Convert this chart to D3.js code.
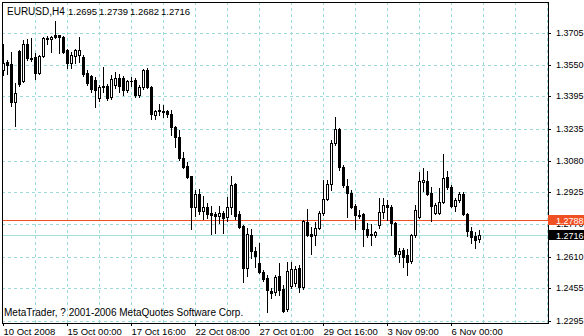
<!DOCTYPE html>
<html>
<head>
<meta charset="utf-8">
<script src="https://cdn.jsdelivr.net/npm/d3@7"></script>
<style>
  body { margin: 0; background: #fff; }
  svg { display: block; font-family: "Liberation Sans", Arial, sans-serif; }
</style>
</head>
<body>
<div id="chart"></div>
<script>
// EURUSD H4 candles (oldest first)
const opens = [
  1.3524, 1.3563, 1.3553, 1.3367, 1.3617, 1.3470, 1.3651, 1.3583, 1.3587, 1.3509,
  1.3592, 1.3681, 1.3676, 1.3695, 1.3695, 1.3685, 1.3622, 1.3558, 1.3592, 1.3597,
  1.3587, 1.3509, 1.3494, 1.3475, 1.3387, 1.3445, 1.3445, 1.3391, 1.3450, 1.3485,
  1.3485, 1.3426, 1.3470, 1.3475, 1.3401, 1.3440, 1.3524, 1.3440, 1.3303, 1.3328,
  1.3323, 1.3323, 1.3308, 1.3244, 1.3195, 1.3093, 1.3053, 1.3004, 1.2852, 1.2916,
  1.2833, 1.2852, 1.2823, 1.2818, 1.2808, 1.2823, 1.2803, 1.2852, 1.2965, 1.2818,
  1.2759, 1.2554, 1.2715, 1.2637, 1.2578, 1.2534, 1.2505, 1.2441, 1.2436, 1.2514,
  1.2451, 1.2353, 1.2465, 1.2480, 1.2554, 1.2460, 1.2779, 1.2720, 1.2715, 1.2750,
  1.2823, 1.2892, 1.2965, 1.3166, 1.3235, 1.3048, 1.2955, 1.2921, 1.2857, 1.2813,
  1.2818, 1.2745, 1.2720, 1.2715, 1.2764, 1.2828, 1.2862, 1.2852, 1.2774, 1.2622,
  1.2642, 1.2617, 1.2588, 1.2715, 1.2803, 1.2975, 1.2980, 1.2921, 1.2823, 1.2823,
  1.2877, 1.2999, 1.2950, 1.2857, 1.2887, 1.2916, 1.2818, 1.2735, 1.2710, 1.2695
];
const highs = [
  1.3651, 1.3573, 1.3612, 1.3460, 1.3622, 1.3671, 1.3676, 1.3681, 1.3607, 1.3597,
  1.3685, 1.3690, 1.3690, 1.3764, 1.3695, 1.3690, 1.3627, 1.3612, 1.3627, 1.3685,
  1.3597, 1.3524, 1.3499, 1.3489, 1.3450, 1.3538, 1.3455, 1.3499, 1.3514, 1.3504,
  1.3494, 1.3475, 1.3489, 1.3485, 1.3450, 1.3529, 1.3534, 1.3445, 1.3328, 1.3357,
  1.3352, 1.3328, 1.3328, 1.3249, 1.3230, 1.3122, 1.3073, 1.3004, 1.2936, 1.2941,
  1.2906, 1.2872, 1.2857, 1.2828, 1.2857, 1.2833, 1.2901, 1.3004, 1.2970, 1.2833,
  1.2764, 1.2750, 1.2745, 1.2656, 1.2676, 1.2544, 1.2519, 1.2456, 1.2519, 1.2578,
  1.2470, 1.2583, 1.2583, 1.2563, 1.2568, 1.2789, 1.2843, 1.2754, 1.2779, 1.2833,
  1.2985, 1.2985, 1.3181, 1.3293, 1.3240, 1.3058, 1.2990, 1.2936, 1.2867, 1.2838,
  1.2823, 1.2774, 1.2769, 1.2735, 1.2897, 1.2897, 1.2887, 1.2862, 1.2779, 1.2652,
  1.2652, 1.2647, 1.2720, 1.2862, 1.3024, 1.3044, 1.3029, 1.2950, 1.2872, 1.2946,
  1.3112, 1.3029, 1.2960, 1.2897, 1.2926, 1.2926, 1.2823, 1.2754, 1.2730, 1.2739
];
const lows = [
  1.3499, 1.3504, 1.3347, 1.3249, 1.3445, 1.3465, 1.3573, 1.3568, 1.3480, 1.3504,
  1.3587, 1.3651, 1.3612, 1.3681, 1.3607, 1.3607, 1.3534, 1.3534, 1.3558, 1.3563,
  1.3494, 1.3450, 1.3416, 1.3342, 1.3372, 1.3416, 1.3377, 1.3382, 1.3436, 1.3416,
  1.3401, 1.3416, 1.3445, 1.3391, 1.3391, 1.3431, 1.3436, 1.3284, 1.3284, 1.3303,
  1.3293, 1.3293, 1.3205, 1.3146, 1.3083, 1.3044, 1.2995, 1.2745, 1.2808, 1.2818,
  1.2794, 1.2799, 1.2720, 1.2725, 1.2774, 1.2725, 1.2784, 1.2818, 1.2794, 1.2750,
  1.2485, 1.2514, 1.2603, 1.2558, 1.2529, 1.2490, 1.2338, 1.2407, 1.2421, 1.2421,
  1.2338, 1.2343, 1.2456, 1.2465, 1.2436, 1.2451, 1.2710, 1.2622, 1.2666, 1.2745,
  1.2813, 1.2887, 1.2936, 1.3156, 1.3034, 1.2950, 1.2803, 1.2848, 1.2745, 1.2799,
  1.2661, 1.2705, 1.2666, 1.2705, 1.2750, 1.2799, 1.2789, 1.2715, 1.2612, 1.2583,
  1.2558, 1.2519, 1.2578, 1.2705, 1.2799, 1.2931, 1.2911, 1.2784, 1.2818, 1.2818,
  1.2872, 1.2941, 1.2852, 1.2833, 1.2877, 1.2815, 1.2710, 1.2676, 1.2652, 1.2682
];
const closes = [
  1.3558, 1.3548, 1.3367, 1.3411, 1.3455, 1.3651, 1.3583, 1.3578, 1.3509, 1.3592,
  1.3681, 1.3676, 1.3685, 1.3685, 1.3685, 1.3612, 1.3558, 1.3597, 1.3622, 1.3622,
  1.3504, 1.3460, 1.3431, 1.3426, 1.3440, 1.3443, 1.3387, 1.3480, 1.3485, 1.3445,
  1.3426, 1.3470, 1.3468, 1.3401, 1.3440, 1.3524, 1.3440, 1.3308, 1.3323, 1.3323,
  1.3318, 1.3308, 1.3244, 1.3195, 1.3093, 1.3048, 1.2999, 1.2852, 1.2916, 1.2833,
  1.2852, 1.2818, 1.2813, 1.2808, 1.2823, 1.2799, 1.2852, 1.2960, 1.2808, 1.2754,
  1.2554, 1.2720, 1.2637, 1.2612, 1.2534, 1.2500, 1.2446, 1.2431, 1.2509, 1.2446,
  1.2343, 1.2539, 1.2549, 1.2549, 1.2460, 1.2784, 1.2715, 1.2710, 1.2750, 1.2823,
  1.2892, 1.2965, 1.3166, 1.3235, 1.3048, 1.2960, 1.2921, 1.2852, 1.2813, 1.2808,
  1.2745, 1.2715, 1.2715, 1.2730, 1.2828, 1.2862, 1.2852, 1.2774, 1.2622, 1.2637,
  1.2607, 1.2583, 1.2715, 1.2838, 1.2980, 1.2985, 1.2916, 1.2857, 1.2862, 1.2877,
  1.2995, 1.2950, 1.2857, 1.2887, 1.2916, 1.2818, 1.2735, 1.2705, 1.2691, 1.2716
];

const timeLabels = ["10 Oct 2008", "15 Oct 00:00", "17 Oct 16:00", "22 Oct 08:00",
                    "27 Oct 01:00", "29 Oct 16:00", "3 Nov 09:00", "6 Nov 00:00"];
const timeLabelBars = [0, 16, 32, 48, 64, 80, 96, 112];
const priceTicks = [1.3705, 1.3550, 1.3395, 1.3235, 1.3080, 1.2925, 1.2770, 1.2610, 1.2455, 1.2295];

const symbol = "EURUSD,H4";
const lastBar = [1.2695, 1.2739, 1.2682, 1.2716]; // O H L C shown in the header
const alertLevel = 1.2788;
const bidLevel = 1.2716;
const copyright = "MetaTrader, ? 2001-2006 MetaQuotes Software Corp.";

const width = 584, height = 336;
const plot = { left: 2, top: 2, right: 548, bottom: 323 };
const gridColor = "#9fdada";
const alertColor = "#f05022";

const svg = d3.select("#chart")
  .append("svg")
  .attr("width", width)
  .attr("height", height);

svg.append("rect").attr("width", width).attr("height", height).attr("fill", "#fff");

// one slot = one 4h bar, 4px wide
const x = d3.scaleLinear().domain([0, 136]).range([3, 547]);
const y = d3.scaleLinear().domain([1.2295, 1.3705]).range([321, 33]);
const yRound = v => Math.round(y(v));

svg.append("clipPath").attr("id", "plotClip")
  .append("rect")
  .attr("x", plot.left).attr("y", plot.top)
  .attr("width", plot.right - plot.left).attr("height", plot.bottom - plot.top);

// Grid
const grid = svg.append("g")
  .attr("stroke", gridColor)
  .attr("stroke-dasharray", "3,3")
  .attr("shape-rendering", "crispEdges");

grid.selectAll("line.v")
  .data(d3.range(8, 137, 8))
  .enter().append("line")
  .attr("x1", d => x(d) + 0.5).attr("x2", d => x(d) + 0.5)
  .attr("y1", plot.top).attr("y2", plot.bottom);

grid.selectAll("line.h")
  .data(priceTicks)
  .enter().append("line")
  .attr("x1", plot.left).attr("x2", plot.right)
  .attr("y1", d => yRound(d) + 0.5).attr("y2", d => yRound(d) + 0.5);

// Alert and bid lines
svg.append("line")
  .attr("x1", plot.left).attr("x2", plot.right)
  .attr("y1", yRound(alertLevel) + 0.5).attr("y2", yRound(alertLevel) + 0.5)
  .attr("stroke", alertColor);

svg.append("line")
  .attr("x1", plot.left).attr("x2", plot.right)
  .attr("y1", yRound(bidLevel) + 0.5).attr("y2", yRound(bidLevel) + 0.5)
  .attr("stroke", "#a6dede");

// Candles
const bars = opens.map((o, i) => ({ i, o, h: highs[i], l: lows[i], c: closes[i] }));
const candles = svg.append("g")
  .attr("clip-path", "url(#plotClip)")
  .attr("shape-rendering", "crispEdges");

candles.selectAll("line")
  .data(bars)
  .enter().append("line")
  .attr("x1", d => x(d.i) + 0.5).attr("x2", d => x(d.i) + 0.5)
  .attr("y1", d => yRound(d.h)).attr("y2", d => yRound(d.l) + 1)
  .attr("stroke", "#000");

candles.selectAll("rect.body")
  .data(bars)
  .enter().append("rect")
  .attr("class", "body")
  .each(function(d) {
    const top = Math.min(yRound(d.o), yRound(d.c));
    const bot = Math.max(yRound(d.o), yRound(d.c));
    const el = d3.select(this);
    if (d.c > d.o && bot - top >= 2) {
      el.attr("x", x(d.i) - 0.5).attr("y", top + 0.5)
        .attr("width", 2).attr("height", bot - top)
        .attr("fill", "#fff").attr("stroke", "#000");
    } else {
      el.attr("x", x(d.i) - 1).attr("y", top)
        .attr("width", 3).attr("height", Math.max(1, bot - top + 1))
        .attr("fill", "#000");
    }
  });

// Frame
svg.append("rect")
  .attr("x", plot.left + 0.5).attr("y", plot.top + 0.5)
  .attr("width", plot.right - plot.left).attr("height", plot.bottom - plot.top)
  .attr("fill", "none").attr("stroke", "#000");

// Price axis
const yAxis = svg.append("g")
  .attr("transform", `translate(${plot.right},0)`)
  .call(d3.axisRight(y.copy().interpolate(d3.interpolateRound))
    .tickValues(priceTicks)
    .tickSize(3)
    .tickPadding(5)
    .tickFormat(d3.format(".4f")));
yAxis.select(".domain").remove();
yAxis.selectAll("text")
  .attr("font-family", "'Liberation Sans', Arial, sans-serif")
  .attr("font-size", 9).attr("fill", "#000");

// Time axis
const xAxis = svg.append("g")
  .attr("transform", `translate(0,${plot.bottom})`)
  .call(d3.axisBottom(x)
    .tickValues(timeLabelBars)
    .tickSize(3)
    .tickFormat((d, i) => timeLabels[i]));
xAxis.select(".domain").remove();
xAxis.selectAll("text")
  .attr("text-anchor", "start")
  .attr("x", 0).attr("y", 12).attr("dy", null)
  .attr("font-family", "'Liberation Sans', Arial, sans-serif")
  .attr("font-size", 9.5).attr("fill", "#000");

// Price tags on the axis
const tags = [
  { v: alertLevel, bg: alertColor },
  { v: bidLevel, bg: "#000" }
];
const tag = svg.selectAll("g.tag")
  .data(tags)
  .enter().append("g")
  .attr("transform", d => `translate(${plot.right},${yRound(d.v)})`);
tag.append("rect")
  .attr("x", 0).attr("y", -5).attr("width", width - plot.right).attr("height", 10)
  .attr("fill", d => d.bg);
tag.append("text")
  .attr("x", 8).attr("y", 3.5)
  .attr("font-size", 9).attr("fill", "#fff")
  .text(d => d3.format(".4f")(d.v));

// Header and copyright
svg.append("text")
  .attr("x", 7).attr("y", 15)
  .attr("font-size", 10)
  .text(symbol);
svg.selectAll("text.quote")
  .data(lastBar)
  .enter().append("text")
  .attr("x", (d, i) => 68 + i * 31).attr("y", 15)
  .attr("font-size", 9.5)
  .text(d => d3.format(".4f")(d));

svg.append("text")
  .attr("x", 4).attr("y", 316)
  .attr("font-size", 10)
  .text(copyright);
</script>
</body>
</html>
